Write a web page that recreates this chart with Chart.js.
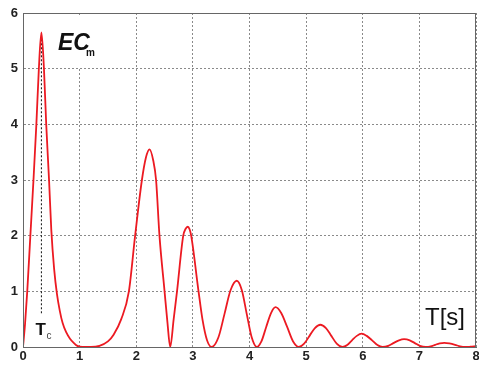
<!DOCTYPE html>
<html>
<head>
<meta charset="utf-8">
<script src="https://cdn.jsdelivr.net/npm/chart.js@4/dist/chart.umd.min.js"></script>
<style>
  body { margin: 0; background: #fff; }
  canvas { display: block; }
</style>
</head>
<body>
<canvas id="ecChart" width="479" height="365"></canvas>
<script>
// Period T [s] and EC_m values
const tValues = [
  0, 0.035, 0.075, 0.13, 0.185, 0.236, 0.28, 0.325, 0.37, 0.41, 0.46, 0.5, 0.55, 0.6, 0.65, 0.7, 0.76, 0.83, 0.9, 0.96, 1.05, 1.2,
  1.35, 1.5, 1.6, 1.735, 1.87, 1.98, 2.1, 2.17, 2.235, 2.3, 2.35, 2.41, 2.5, 2.55, 2.6,
  2.66, 2.72, 2.83, 2.87, 2.91, 2.94, 2.97, 3.1, 3.17, 3.25, 3.33,
  3.45, 3.56, 3.665, 3.775, 3.865, 3.95, 4.04, 4.13,
  4.21, 4.295, 4.38, 4.46, 4.56, 4.665, 4.77, 4.87,
  4.965, 5.06, 5.155, 5.25, 5.35, 5.445, 5.54, 5.64,
  5.725, 5.81, 5.895, 5.98, 6.07, 6.165, 6.26, 6.35,
  6.45, 6.54, 6.64, 6.73, 6.83, 6.92, 7.01, 7.11,
  7.2, 7.28, 7.36, 7.44, 7.53, 7.63, 7.72, 7.82, 7.9, 8
];
const ecValues = [
  0, 0.4, 1.0, 2.0, 3.0, 4.0, 5.0, 5.65, 5.0, 4.0, 3.0, 2.1, 1.4, 0.95, 0.65, 0.43, 0.27, 0.15, 0.07, 0.02, 0, 0,
  0.02, 0.1, 0.22, 0.5, 1.0, 2.0, 3.0, 3.4, 3.55, 3.35, 3.0, 2.0, 1.0, 0.45, 0,
  0.49, 1.0, 2.0, 2.12, 2.16, 2.12, 2.0, 1.0, 0.49, 0.12, 0,
  0.17, 0.6, 1.02, 1.19, 1.02, 0.6, 0.17, 0,
  0.1, 0.36, 0.61, 0.715, 0.61, 0.36, 0.1, 0,
  0.06, 0.2, 0.34, 0.4, 0.34, 0.2, 0.06, 0,
  0.035, 0.12, 0.2, 0.24, 0.2, 0.12, 0.035, 0,
  0.02, 0.07, 0.12, 0.14, 0.12, 0.07, 0.02, 0,
  0.01, 0.04, 0.065, 0.075, 0.065, 0.04, 0.01, 0, 0.005, 0.015
];

// Dotted marker for T_c
const tcX = [0.325, 0.325];
const tcY = [5.6, 0.58];

const xTicks = [0, 1, 2, 3, 4, 5, 6, 7, 8];
const yTicks = [0, 1, 2, 3, 4, 5, 6];

function toPoints(xs, ys) {
  return xs.map((x, i) => ({ x: x, y: ys[i] }));
}

// Frame round the plot and the text labels
const labelsPlugin = {
  id: 'labels',
  afterDatasetsDraw(chart) {
    const ctx = chart.ctx;
    const a = chart.chartArea;
    const xs = chart.scales.x;
    ctx.save();

    // white boxes behind the labels
    ctx.fillStyle = '#fff';
    ctx.fillRect(56, 17, 44, 50);
    ctx.fillRect(420, 294, 55, 46);

    ctx.fillStyle = '#111';
    ctx.textBaseline = 'alphabetic';
    ctx.textAlign = 'left';

    // EC_m
    ctx.font = 'italic bold 23px Arial';
    ctx.fillText('EC', 58, 50);
    ctx.font = 'bold 10px Arial';
    ctx.fillText('m', 86, 56);

    // T[s]
    ctx.font = '24px Arial';
    ctx.fillText('T[s]', 425, 325);

    // T_c
    const tcPx = xs.getPixelForValue(tcX[0]);
    ctx.font = 'bold 17px Arial';
    ctx.fillText('T', tcPx - 6, 335);
    ctx.font = '10px Arial';
    ctx.fillStyle = '#444';
    ctx.fillText('c', tcPx + 5, 339);

    // frame
    ctx.strokeStyle = '#666';
    ctx.lineWidth = 1;
    ctx.strokeRect(Math.round(a.left) + 0.5, Math.round(a.top) + 0.5,
      Math.round(a.right - a.left) - 1, Math.round(a.bottom - a.top));
    ctx.restore();
  }
};

const ctx = document.getElementById('ecChart').getContext('2d');
const ecChart = new Chart(ctx, {
  type: 'line',
  data: {
    datasets: [
      {
        label: 'EC_m',
        data: toPoints(tValues, ecValues),
        borderColor: '#ec1a22',
        borderWidth: 1.8,
        pointRadius: 0,
        cubicInterpolationMode: 'monotone',
        fill: false,
        order: 1
      },
      {
        label: 'T_c',
        data: toPoints(tcX, tcY),
        borderColor: '#111',
        borderWidth: 1,
        borderDash: [2, 2],
        pointRadius: 0,
        fill: false,
        order: 2
      }
    ]
  },
  options: {
    responsive: false,
    animation: false,
    layout: { padding: { top: 13, right: 3, left: 0, bottom: 0 } },
    plugins: {
      legend: { display: false },
      tooltip: { enabled: false }
    },
    scales: {
      x: {
        type: 'linear',
        min: xTicks[0],
        max: xTicks[xTicks.length - 1],
        afterBuildTicks: (scale) => { scale.ticks = xTicks.map(v => ({ value: v })); },
        afterFit: (scale) => { scale.height = 18; scale.paddingLeft = 0; scale.paddingRight = 0; },
        ticks: {
          font: { family: 'Arial', size: 13, weight: 'bold' },
          color: '#222',
          padding: 2,
          maxRotation: 0
        },
        grid: { color: '#8a8a8a', lineWidth: 1, drawTicks: false },
        border: { display: true, color: '#666', dash: [2, 2] }
      },
      y: {
        type: 'linear',
        min: yTicks[0],
        max: yTicks[yTicks.length - 1],
        afterBuildTicks: (scale) => { scale.ticks = yTicks.map(v => ({ value: v })); },
        afterFit: (scale) => { scale.width = 23; scale.paddingTop = 0; scale.paddingBottom = 0; },
        ticks: {
          font: { family: 'Arial', size: 13, weight: 'bold' },
          color: '#222',
          padding: 5
        },
        grid: { color: '#8a8a8a', lineWidth: 1, drawTicks: false },
        border: { display: true, color: '#666', dash: [2, 2] }
      }
    }
  },
  plugins: [labelsPlugin]
});
</script>
</body>
</html>
